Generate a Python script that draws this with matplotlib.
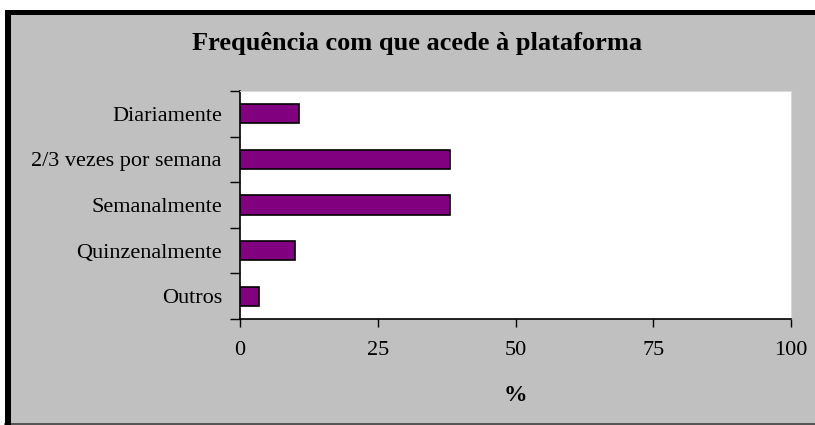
import matplotlib.pyplot as plt
from matplotlib.patches import Rectangle
from matplotlib.lines import Line2D

categories = ["Diariamente", "2/3 vezes por semana", "Semanalmente",
              "Quinzenalmente", "Outros"]
values = [10.7, 38.1, 38.1, 9.9, 3.4]
x_ticks = [0, 25, 50, 75, 100]

plt.rcParams['font.family'] = ['Liberation Serif', 'DejaVu Serif']

W, H = 815, 425
fig = plt.figure(figsize=(W / 100, H / 100), dpi=100, facecolor='white')

# grey chart area with the black frame (top and left) like the old Excel export
fig.patches.append(Rectangle((5 / W, 0), 1 - 5 / W, 1 - 10 / H,
                             transform=fig.transFigure, facecolor='#c0c0c0',
                             edgecolor='none', zorder=-2))
fig.patches.append(Rectangle((5 / W, 1 - 15 / H), 1 - 5 / W, 5 / H,
                             transform=fig.transFigure, facecolor='black',
                             edgecolor='none', zorder=-1))
fig.patches.append(Rectangle((5 / W, 0), 6 / W, 1 - 10 / H,
                             transform=fig.transFigure, facecolor='black',
                             edgecolor='none', zorder=-1))
fig.lines.append(Line2D([5 / W, 1], [1 / H, 1 / H], transform=fig.transFigure,
                        color='#404040', lw=1.2, zorder=-1))

ax = fig.add_axes([240 / W, 1 - 319 / H, 551 / W, 228 / H])
ax.set_zorder(5)
ax.set_facecolor('white')

ypos = list(range(len(categories)))
ax.barh(ypos, values, height=0.42, color='#800080', edgecolor='black',
        linewidth=1.2, zorder=3)

ax.set_xlim(0, 100)
ax.set_ylim(len(categories) - 0.5, -0.5)

ax.set_xticks(x_ticks)
ax.set_xticklabels([str(t) for t in x_ticks], fontsize=16)
ax.tick_params(axis='x', direction='out', length=6, width=1, pad=10,
               color='black')

ax.set_yticks(ypos)
ax.set_yticklabels(categories, fontsize=16)
ax.set_yticks([p - 0.5 for p in ypos] + [len(categories) - 0.5], minor=True)
ax.tick_params(axis='y', which='major', length=0, pad=13)
ax.tick_params(axis='y', which='minor', direction='out', length=7, width=1,
               color='black')

for s in ['top', 'right']:
    ax.spines[s].set_color('#d8d8d8')
    ax.spines[s].set_linewidth(0.8)
for s in ['left', 'bottom']:
    ax.spines[s].set_color('black')
    ax.spines[s].set_linewidth(1.2)

ax.set_xlabel('%', fontsize=17, fontweight='bold', labelpad=18)
fig.text(417 / W, 1 - 50 / H, 'Frequência com que acede à plataforma',
         ha='center', va='baseline', fontsize=19, fontweight='bold')

fig.savefig('out.png', dpi=100, facecolor=fig.get_facecolor())
